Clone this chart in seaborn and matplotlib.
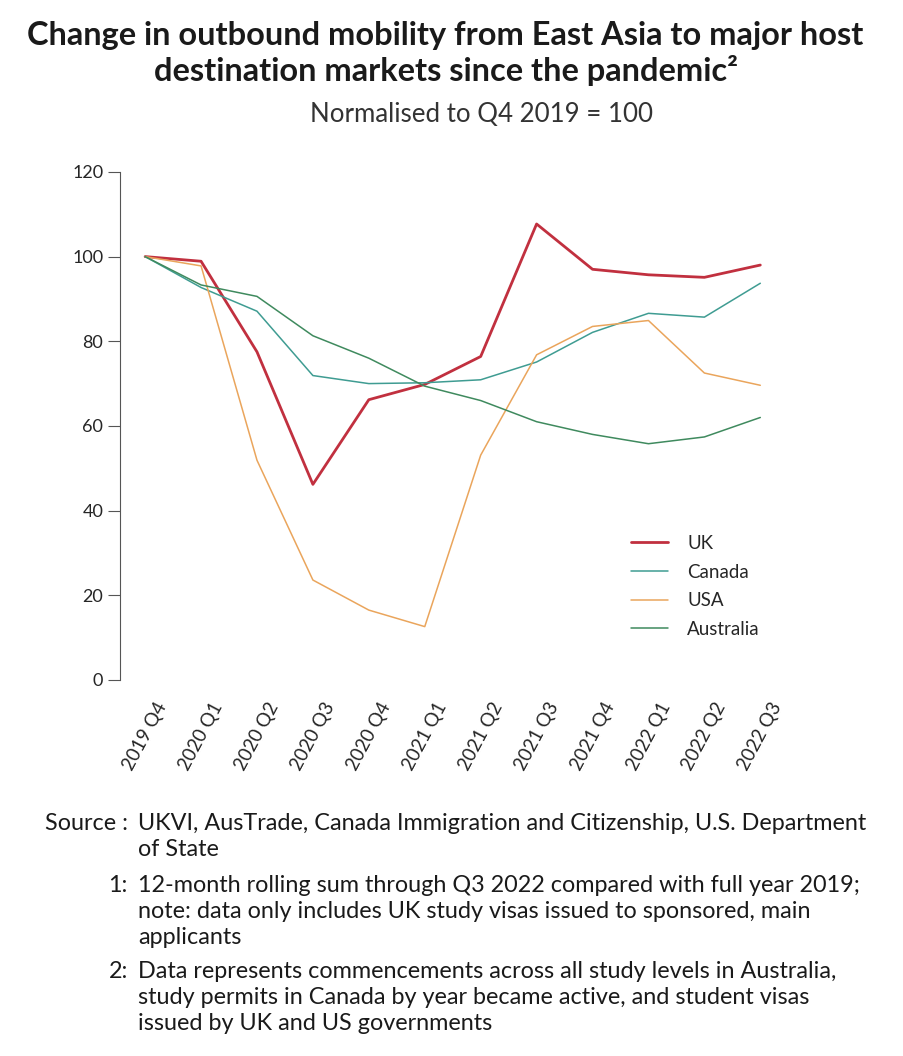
import numpy as np
import pandas as pd
import matplotlib
matplotlib.use("Agg")
import matplotlib.pyplot as plt
import seaborn as sns

# quarters on the x axis
quarters = ["2019 Q4", "2020 Q1", "2020 Q2", "2020 Q3", "2020 Q4", "2021 Q1",
            "2021 Q2", "2021 Q3", "2021 Q4", "2022 Q1", "2022 Q2", "2022 Q3"]

# values (normalised, Q4 2019 = 100)
uk = [100, 98.9, 77.5, 46.2, 66.2, 69.8, 76.4, 107.7, 97.0, 95.7, 95.1, 98.0]
canada = [100, 92.7, 87.1, 71.9, 70.0, 70.2, 70.9, 75.1, 82.1, 86.6, 85.7, 93.7]
usa = [100, 97.8, 51.9, 23.6, 16.5, 12.6, 53.1, 76.8, 83.5, 84.9, 72.5, 69.6]
australia = [100, 93.3, 90.6, 81.3, 76.0, 69.4, 66.0, 61.0, 58.0, 55.8, 57.4, 62.0]

series_names = ["UK", "Canada", "USA", "Australia"]
colors = {"UK": "#c1303f", "Canada": "#3f9c92", "USA": "#eaa55c", "Australia": "#3f8a5e"}
widths = {"UK": 2.0, "Canada": 1.1, "USA": 1.1, "Australia": 1.1}

footnote_labels = ["Source :", "1:", "2:"]
footnote_texts = [
    "UKVI, AusTrade, Canada Immigration and Citizenship, U.S. Department\nof State",
    "12-month rolling sum through Q3 2022 compared with full year 2019;\nnote: data only includes UK study visas issued to sponsored, main\napplicants",
    "Data represents commencements across all study levels in Australia,\nstudy permits in Canada by year became active, and student visas\nissued by UK and US governments",
]

rows = []
for name, vals in zip(series_names, [uk, canada, usa, australia]):
    for i, v in enumerate(vals):
        rows.append({"idx": i, "value": v, "country": name})
df = pd.DataFrame(rows)

sns.set_style("white")
plt.rcParams["font.family"] = ["Lato", "DejaVu Sans"]

fig = plt.figure(figsize=(9.04, 10.56), dpi=100)
ax = fig.add_axes([0.1327, 0.3561, 0.730, 0.4811])

sns.lineplot(data=df, x="idx", y="value", hue="country", hue_order=series_names,
             palette=colors, ax=ax, legend=False)
for line, name in zip(ax.get_lines(), series_names):
    line.set_linewidth(widths[name])

ax.set_xlim(-0.45, 11.35)
ax.set_ylim(0, 120)
ax.set_yticks(np.arange(0, 121, 20))
ax.set_xticks(range(len(quarters)))
ax.set_xticklabels(quarters, rotation=62, ha="center", va="top", fontsize=13.5)
ax.set_xlabel("")
ax.set_ylabel("")
for side in ["top", "right", "bottom"]:
    ax.spines[side].set_visible(False)
ax.spines["left"].set_color("#555555")
ax.spines["left"].set_linewidth(0.8)
ax.spines["left"].set_bounds(0, 120)
ax.tick_params(axis="y", length=9, width=0.8, color="#555555", pad=3, labelsize=13, left=True)
ax.tick_params(axis="x", length=0, pad=14)

# legend
handles = [plt.Line2D([0], [0], color=colors[n], lw=widths[n]) for n in series_names]
ax.legend(handles, series_names, loc="upper left", bbox_to_anchor=(614 / 904, 1 - 518 / 1056),
          bbox_transform=fig.transFigure, frameon=False, fontsize=13.5, handlelength=2.0,
          handletextpad=1.0, labelspacing=0.62)

# titles
fig.text(0.493, 1 - 36 / 1056, "Change in outbound mobility from East Asia to major host",
         ha="center", va="center", fontsize=23.4, fontweight="bold", color="#1a1a1a")
fig.text(0.493, 1 - 70 / 1056, "destination markets since the pandemic²",
         ha="center", va="center", fontsize=23.4, fontweight="bold", color="#1a1a1a")
fig.text(482 / 904, 1 - 115 / 1056, "Normalised to Q4 2019 = 100",
         ha="center", va="center", fontsize=18.6, fontweight="normal", color="#333333")

# footnotes
y_centers = [825, 887, 973]
for lab, txt, yc in zip(footnote_labels, footnote_texts, y_centers):
    y0 = 1 - (yc - 12) / 1056
    fig.text(128 / 904, y0, lab, ha="right", va="top", fontsize=16.8, color="#1a1a1a")
    fig.text(138 / 904, y0, txt, ha="left", va="top", fontsize=16.8,
             color="#1a1a1a", linespacing=1.29)

fig.savefig("out.png", dpi=100)
